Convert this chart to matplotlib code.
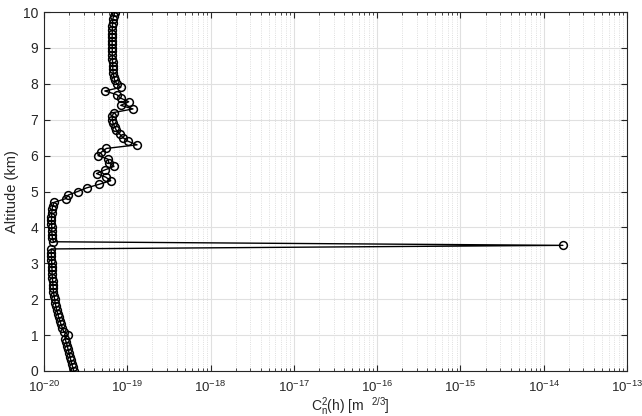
import numpy as np
import matplotlib
matplotlib.use("Agg")
import matplotlib.pyplot as plt
from matplotlib.ticker import LogLocator, NullFormatter, FixedFormatter

plt.rcParams['font.family'] = ['Liberation Sans', 'DejaVu Sans']
plt.rcParams['mathtext.fontset'] = 'custom'
plt.rcParams['mathtext.rm'] = 'Liberation Sans'
plt.rcParams['mathtext.it'] = 'Liberation Sans'

# Altitude (km), 0 to 10 in 0.1 steps
altitude_km = [round(0.1 * i, 1) for i in range(101)]

# Cn^2 values (m^-2/3)
cn2 = [
    2.28e-20, 2.22e-20, 2.15e-20, 2.10e-20, 2.05e-20, 2.00e-20, 1.95e-20, 1.90e-20, 1.85e-20, 1.78e-20,  # 0.0-0.9
    1.95e-20, 1.72e-20, 1.66e-20, 1.60e-20, 1.55e-20, 1.50e-20, 1.46e-20, 1.42e-20, 1.39e-20, 1.36e-20,  # 1.0-1.9
    1.34e-20, 1.32e-20, 1.30e-20, 1.29e-20, 1.28e-20, 1.27e-20, 1.26e-20, 1.25e-20, 1.25e-20, 1.24e-20,  # 2.0-2.9
    1.24e-20, 1.23e-20, 1.23e-20, 1.22e-20, 1.22e-20, 1.70e-14, 1.30e-20, 1.26e-20, 1.25e-20, 1.24e-20,  # 3.0-3.9
    1.24e-20, 1.23e-20, 1.23e-20, 1.23e-20, 1.24e-20, 1.25e-20, 1.27e-20, 1.33e-20, 1.82e-20, 1.95e-20,  # 4.0-4.9
    2.53e-20, 3.24e-20, 4.59e-20, 6.33e-20, 5.52e-20, 4.27e-20, 5.37e-20, 6.93e-20, 5.99e-20, 5.88e-20,  # 5.0-5.9
    4.46e-20, 4.90e-20, 5.62e-20, 1.31e-19, 1.02e-19, 8.89e-20, 8.11e-20, 7.41e-20, 7.06e-20, 6.75e-20,  # 6.0-6.9
    6.60e-20, 6.60e-20, 6.88e-20, 1.17e-19, 8.34e-20, 1.04e-19, 8.34e-20, 7.46e-20, 5.37e-20, 8.34e-20,  # 7.0-7.9
    7.46e-20, 7.06e-20, 6.88e-20, 6.78e-20, 6.70e-20, 6.70e-20, 6.65e-20, 6.62e-20, 6.60e-20, 6.60e-20,  # 8.0-8.9
    6.60e-20, 6.58e-20, 6.58e-20, 6.58e-20, 6.60e-20, 6.60e-20, 6.62e-20, 6.65e-20, 6.70e-20, 6.88e-20,  # 9.0-9.9
    7.06e-20,                                                                                           # 10.0
]

x_ticks = [1e-20, 1e-19, 1e-18, 1e-17, 1e-16, 1e-15, 1e-14, 1e-13]
x_tick_labels = [r'$\mathregular{10^{-20}}$', r'$\mathregular{10^{-19}}$', r'$\mathregular{10^{-18}}$',
                 r'$\mathregular{10^{-17}}$', r'$\mathregular{10^{-16}}$', r'$\mathregular{10^{-15}}$',
                 r'$\mathregular{10^{-14}}$', r'$\mathregular{10^{-13}}$']
y_ticks = list(range(0, 11))

fig = plt.figure(figsize=(6.42, 4.16), dpi=100)
ax = fig.add_axes([44 / 642, 1 - 371 / 416, (627 - 44) / 642, (371 - 12) / 416])

ax.plot(cn2, altitude_km, '-o', color='black', lw=1.0, ms=5.6,
        markerfacecolor='none', markeredgecolor='black', markeredgewidth=1.1, zorder=3)

ax.set_xscale('log')
ax.set_xlim(1e-20, 1e-13)
ax.set_ylim(0, 10)
ax.set_xticks(x_ticks)
ax.xaxis.set_major_formatter(FixedFormatter(x_tick_labels))
ax.xaxis.set_minor_locator(LogLocator(base=10, subs=np.arange(2, 10), numticks=100))
ax.xaxis.set_minor_formatter(NullFormatter())
ax.set_yticks(y_ticks)

ax.grid(True, which='major', color='#e0e0e0', lw=0.8, zorder=0)
ax.grid(True, which='minor', axis='x', color='#d4d4d4', lw=0.6, ls=':', zorder=0)

for s in ax.spines.values():
    s.set_color('#262626')
    s.set_linewidth(0.8)

ax.tick_params(which='both', direction='in', top=True, right=True, colors='#262626',
               labelcolor='#262626')
ax.tick_params(axis='y', labelsize=10, pad=4)
ax.tick_params(axis='x', labelsize=9.5, pad=6)
ax.tick_params(which='major', length=4)
ax.tick_params(which='minor', length=2.5)

ax.set_xlabel(r'$\mathregular{C_n^2(h)\ [m\ \ ^{2/3}]}$', fontsize=10, color='#262626')
ax.xaxis.set_label_coords(0.525, -0.068)
ax.set_ylabel('Altitude (km)', fontsize=10.5, color='#262626', labelpad=3)

fig.savefig('out.png', dpi=100, facecolor='white')
